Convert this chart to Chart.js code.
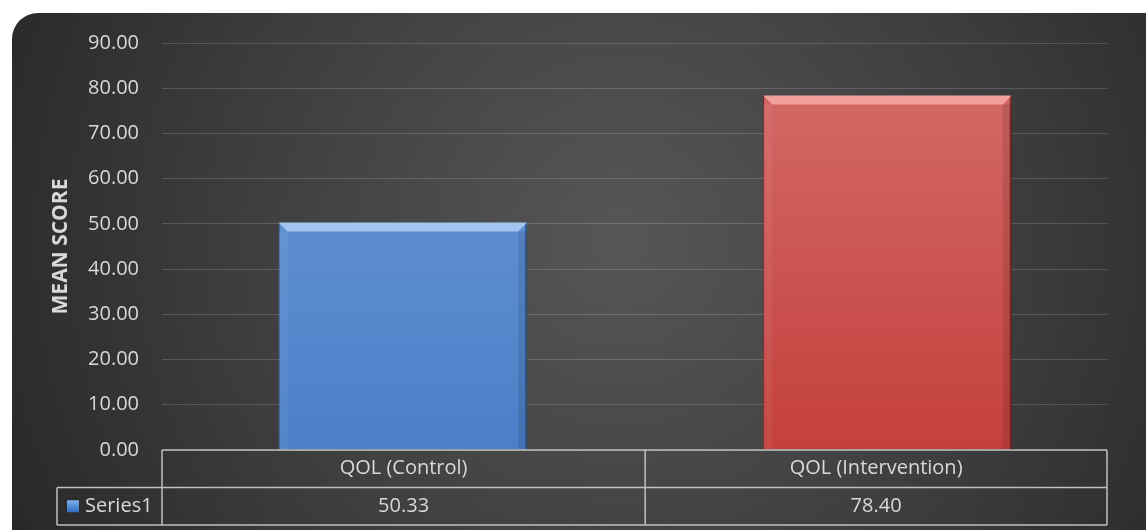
<!DOCTYPE html>
<html>
<head>
<meta charset="utf-8">
<script src="https://cdn.jsdelivr.net/npm/chart.js@4/dist/chart.umd.min.js"></script>
<style>
  html, body { margin: 0; padding: 0; background: #fff; }
  #wrap { width: 1146px; height: 530px; }
</style>
</head>
<body>
<div id="wrap"><canvas id="qolChart" width="1146" height="530"></canvas></div>
<script>
const categories = ['QOL (Control)', 'QOL (Intervention)'];
const seriesName = 'Series1';
const meanScores = [50.33, 78.40];
const yTicks = [0, 10, 20, 30, 40, 50, 60, 70, 80, 90];

const textColor = '#d9d9d9';
const lineColor = '#c0c0c0';
const fontFamily = '"Open Sans", "Noto Sans", sans-serif';

// top/bottom colours for each bar
const barTop = ['#6e9ad8', '#d56d6a'];
const barBottom = ['#4a7fc8', '#c4403d'];
const barEdge = ['#2f5a94', '#8a2222'];

// rounded dark panel behind everything
const panelPlugin = {
    id: 'panel',
    beforeDraw(chart) {
        const ctx = chart.ctx;
        const w = chart.width, h = chart.height;
        ctx.save();
        ctx.fillStyle = '#ffffff';
        ctx.fillRect(0, 0, w, h);
        const g = ctx.createRadialGradient(620, 240, 20, 620, 240, 720);
        g.addColorStop(0, '#555555');
        g.addColorStop(0.55, '#3c3c3c');
        g.addColorStop(1, '#252525');
        ctx.fillStyle = g;
        ctx.beginPath();
        ctx.roundRect(12, 13, w + 20, h + 10, 26);
        ctx.fill();
        ctx.restore();
    }
};

// bevel highlight on top of each bar
const bevelPlugin = {
    id: 'bevel',
    afterDatasetsDraw(chart) {
        const ctx = chart.ctx;
        chart.getDatasetMeta(0).data.forEach((bar, i) => {
            const left = bar.x - bar.width / 2;
            const right = bar.x + bar.width / 2;
            const top = bar.y;
            const bev = 9;
            ctx.save();
            ctx.fillStyle = i === 0 ? 'rgba(190,220,255,0.7)' : 'rgba(255,185,180,0.7)';
            ctx.beginPath();
            ctx.moveTo(left, top);
            ctx.lineTo(right, top);
            ctx.lineTo(right - bev, top + bev);
            ctx.lineTo(left + bev, top + bev);
            ctx.closePath();
            ctx.fill();
            ctx.fillStyle = 'rgba(0,0,0,0.10)';
            ctx.fillRect(right - bev, top + bev, bev, bar.base - top - bev);
            ctx.fillStyle = 'rgba(255,255,255,0.05)';
            ctx.fillRect(left, top + bev, bev, bar.base - top - bev);
            ctx.restore();
        });
    }
};

// data table under the plot
const tablePlugin = {
    id: 'dataTable',
    afterDraw(chart) {
        const ctx = chart.ctx;
        const area = chart.chartArea;
        const x = chart.scales.x;
        const rowH = 37.5;
        const y0 = area.bottom;
        const y1 = y0 + rowH;
        const y2 = y1 + rowH;
        const legendLeft = 57;
        const colEdges = [area.left];
        for (let i = 0; i < categories.length - 1; i++) {
            colEdges.push((x.getPixelForValue(i) + x.getPixelForValue(i + 1)) / 2);
        }
        colEdges.push(area.right);

        ctx.save();
        ctx.strokeStyle = lineColor;
        ctx.lineWidth = 1.5;
        ctx.beginPath();
        ctx.moveTo(area.left, y0); ctx.lineTo(area.right, y0);
        ctx.moveTo(legendLeft, y1); ctx.lineTo(area.right, y1);
        ctx.moveTo(legendLeft, y2); ctx.lineTo(area.right, y2);
        ctx.moveTo(legendLeft, y1); ctx.lineTo(legendLeft, y2);
        colEdges.forEach(e => { ctx.moveTo(e, y0); ctx.lineTo(e, y2); });
        ctx.stroke();

        ctx.fillStyle = textColor;
        ctx.font = '20px ' + fontFamily;
        ctx.textAlign = 'center';
        ctx.textBaseline = 'middle';
        categories.forEach((c, i) => {
            const cx = (colEdges[i] + colEdges[i + 1]) / 2;
            ctx.fillText(c, cx, (y0 + y1) / 2);
            ctx.fillText(meanScores[i].toFixed(2), cx, (y1 + y2) / 2);
        });

        // legend key
        const ky = (y1 + y2) / 2 - 6;
        const kg = ctx.createLinearGradient(0, ky, 0, ky + 12);
        kg.addColorStop(0, '#7fb0ee');
        kg.addColorStop(1, '#2f6cc0');
        ctx.fillStyle = kg;
        ctx.fillRect(legendLeft + 10, ky, 12, 12);
        ctx.fillStyle = textColor;
        ctx.textAlign = 'left';
        ctx.fillText(seriesName, legendLeft + 28, (y1 + y2) / 2);
        ctx.restore();
    }
};

new Chart(document.getElementById('qolChart'), {
    type: 'bar',
    data: {
        datasets: [{
            label: seriesName,
            data: meanScores.map((v, i) => ({ x: i, y: v })),
            backgroundColor: context => {
                const chart = context.chart;
                const area = chart.chartArea;
                if (!area) return barBottom[context.dataIndex];
                const g = chart.ctx.createLinearGradient(0, area.top, 0, area.bottom);
                g.addColorStop(0, barTop[context.dataIndex]);
                g.addColorStop(1, barBottom[context.dataIndex]);
                return g;
            },
            borderColor: barEdge,
            borderWidth: { left: 1, right: 2, top: 0, bottom: 0 },
            barPercentage: 0.513,
            categoryPercentage: 1
        }]
    },
    options: {
        responsive: false,
        animation: false,
        devicePixelRatio: 1,
        layout: { padding: { left: 48, top: 43, right: 39, bottom: 80 } },
        plugins: {
            legend: { display: false },
            tooltip: { enabled: false }
        },
        scales: {
            x: {
                type: 'linear',
                display: false,
                offset: false,
                min: -0.497,
                max: 1.453,
                afterBuildTicks: scale => { scale.ticks = categories.map((c, i) => ({ value: i })); }
            },
            y: {
                min: 0,
                max: 90,
                afterBuildTicks: scale => { scale.ticks = yTicks.map(v => ({ value: v })); },
                afterFit: scale => { scale.width = 114; },
                border: { display: false },
                grid: { color: 'rgba(255,255,255,0.16)', lineWidth: 1, drawTicks: false },
                ticks: {
                    color: textColor,
                    padding: 23,
                    font: { family: fontFamily, size: 20 },
                    callback: v => Number(v).toFixed(2)
                },
                title: {
                    display: true,
                    text: 'MEAN SCORE',
                    color: textColor,
                    padding: { top: 0, bottom: 0 },
                    font: { family: fontFamily, size: 21, weight: 'bold' }
                }
            }
        }
    },
    plugins: [panelPlugin, bevelPlugin, tablePlugin]
});
</script>
</body>
</html>
